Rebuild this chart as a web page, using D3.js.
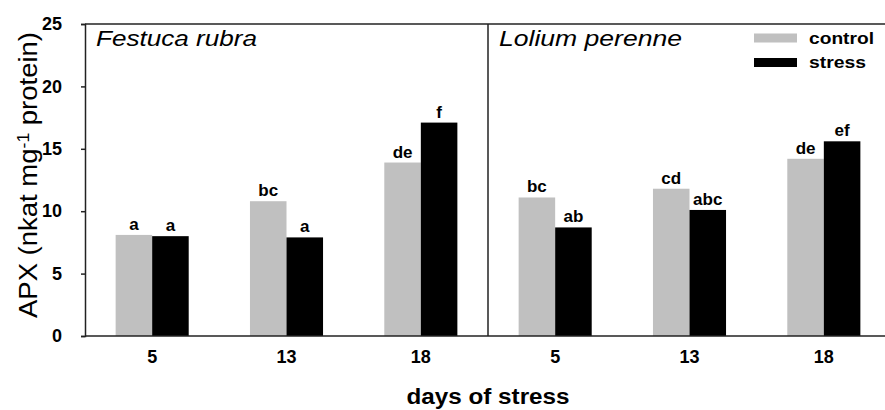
<!DOCTYPE html>
<html>
<head>
<meta charset="utf-8">
<script src="https://cdn.jsdelivr.net/npm/d3@7"></script>
<style>
    body { margin: 0; background: #fff; }
    text { font-family: "Liberation Sans", Arial, sans-serif; fill: #000; }
</style>
</head>
<body>
<svg id="chart" width="885" height="410"></svg>
<script>
// data
const days = ["5", "13", "18"]
const species = ["Festuca rubra", "Lolium perenne"]
const series = ["control", "stress"]
const festucaControl = [8.1, 10.8, 13.9]
const festucaStress = [8.0, 7.9, 17.1]
const loliumControl = [11.1, 11.8, 14.2]
const loliumStress = [8.7, 10.1, 15.6]
const festucaLetters = [["a", "a"], ["bc", "a"], ["de", "f"]]
const loliumLetters = [["bc", "ab"], ["cd", "abc"], ["de", "ef"]]
const yTicks = [0, 5, 10, 15, 20, 25]

const colors = { control: "#c0c0c0", stress: "#000000" }

const panels = [
    { name: species[0], values: [festucaControl, festucaStress], letters: festucaLetters, titleWidth: 161 },
    { name: species[1], values: [loliumControl, loliumStress], letters: loliumLetters, titleWidth: 183 },
]

const svg = d3.select("#chart")

const plotLeft = 85, plotTop = 24, plotBottom = 336, panelWidth = 403

const y = d3.scaleLinear().domain([0, 25]).range([plotBottom, plotTop])

const panelX = d3.scaleBand().domain(species).range([plotLeft, plotLeft + 2 * panelWidth])

const inner = d3.scaleBand().domain(series).paddingInner(0)

panels.forEach(p => {
    const x0 = panelX(p.name)
    const x = d3.scaleBand()
        .domain(days)
        .range([x0, x0 + panelWidth])
        .paddingInner(0.456)
        .paddingOuter(0.228)
    inner.range([0, x.bandwidth()])

    const rows = []
    days.forEach((d, i) => {
        series.forEach((s, j) => {
            rows.push({ day: d, series: s, value: p.values[j][i], letter: p.letters[i][j] })
        })
    })

    const g = svg.append("g")

    g.selectAll("rect")
        .data(rows)
        .enter().append("rect")
        .attr("x", d => x(d.day) + inner(d.series))
        .attr("y", d => y(d.value))
        .attr("width", inner.bandwidth())
        .attr("height", d => y(0) - y(d.value))
        .attr("fill", d => colors[d.series])

    g.selectAll(".letter")
        .data(rows)
        .enter().append("text")
        .attr("class", "letter")
        .attr("x", d => x(d.day) + inner(d.series) + inner.bandwidth() / 2)
        .attr("y", d => y(d.value) - 5)
        .attr("text-anchor", "middle")
        .attr("font-size", "17px")
        .attr("font-weight", "bold")
        .text(d => d.letter)

    // day labels under the axis
    const xAxis = d3.axisBottom(x).tickSize(0).tickPadding(14)
    const ax = g.append("g")
        .attr("transform", `translate(0,${plotBottom})`)
        .call(xAxis)
    ax.select(".domain").remove()
    ax.selectAll("text")
        .attr("font-size", "18px")
        .attr("font-weight", "bold")
        .attr("font-family", null)
        .attr("fill", "#000")

    // species name
    g.append("text")
        .attr("x", x0 + 11)
        .attr("y", 46)
        .attr("font-size", "22px")
        .attr("font-style", "italic")
        .attr("textLength", p.titleWidth)
        .attr("lengthAdjust", "spacingAndGlyphs")
        .text(p.name)
})

// frame
const frame = svg.append("g")
    .attr("stroke", "#222")
    .attr("stroke-width", 1.5)
    .attr("fill", "none")

frame.append("line").attr("x1", plotLeft).attr("x2", 885).attr("y1", plotTop).attr("y2", plotTop)
frame.append("line").attr("x1", plotLeft).attr("x2", 885).attr("y1", plotBottom).attr("y2", plotBottom)
frame.append("line").attr("x1", panelX(species[1])).attr("x2", panelX(species[1])).attr("y1", plotTop).attr("y2", plotBottom)

// y axis
const yAxis = d3.axisLeft(y).tickValues(yTicks).tickSize(4).tickPadding(19)
const yg = svg.append("g")
    .attr("transform", `translate(${plotLeft},0)`)
    .call(yAxis)
yg.select(".domain").attr("stroke", "#222").attr("stroke-width", 1.5)
yg.selectAll(".tick line").attr("stroke", "#222").attr("stroke-width", 1.5)
yg.selectAll("text")
    .attr("font-size", "18px")
    .attr("font-weight", "bold")
    .attr("font-family", null)
    .attr("fill", "#000")

// y title
const yTitle = svg.append("text")
    .attr("transform", `translate(37,175) rotate(-90)`)
    .attr("text-anchor", "middle")
    .attr("font-size", "25px")
    .attr("textLength", 286)
    .attr("lengthAdjust", "spacingAndGlyphs")
yTitle.append("tspan").text("APX (nkat mg")
yTitle.append("tspan").attr("font-size", "16px").attr("baseline-shift", "super").text("-1")
yTitle.append("tspan").text(" protein)")

// x title
svg.append("text")
    .attr("x", (plotLeft + plotLeft + 2 * panelWidth) / 2)
    .attr("y", 404)
    .attr("text-anchor", "middle")
    .attr("font-size", "22px")
    .attr("font-weight", "bold")
    .attr("textLength", 163)
    .attr("lengthAdjust", "spacingAndGlyphs")
    .text("days of stress")

// legend
const legendY = d3.scalePoint().domain(series).range([38, 62.5])
const legend = svg.selectAll(".legend")
    .data(series)
    .enter().append("g")
    .attr("class", "legend")
    .attr("transform", d => `translate(754,${legendY(d)})`)

legend.append("rect")
    .attr("x", 0)
    .attr("y", -4.5)
    .attr("width", 43)
    .attr("height", 9)
    .attr("fill", d => colors[d])

legend.append("text")
    .attr("x", 55)
    .attr("dy", "0.35em")
    .attr("font-size", "17px")
    .attr("font-weight", "bold")
    .attr("textLength", d => d === "control" ? 65 : 57)
    .attr("lengthAdjust", "spacingAndGlyphs")
    .text(d => d)
</script>
</body>
</html>
